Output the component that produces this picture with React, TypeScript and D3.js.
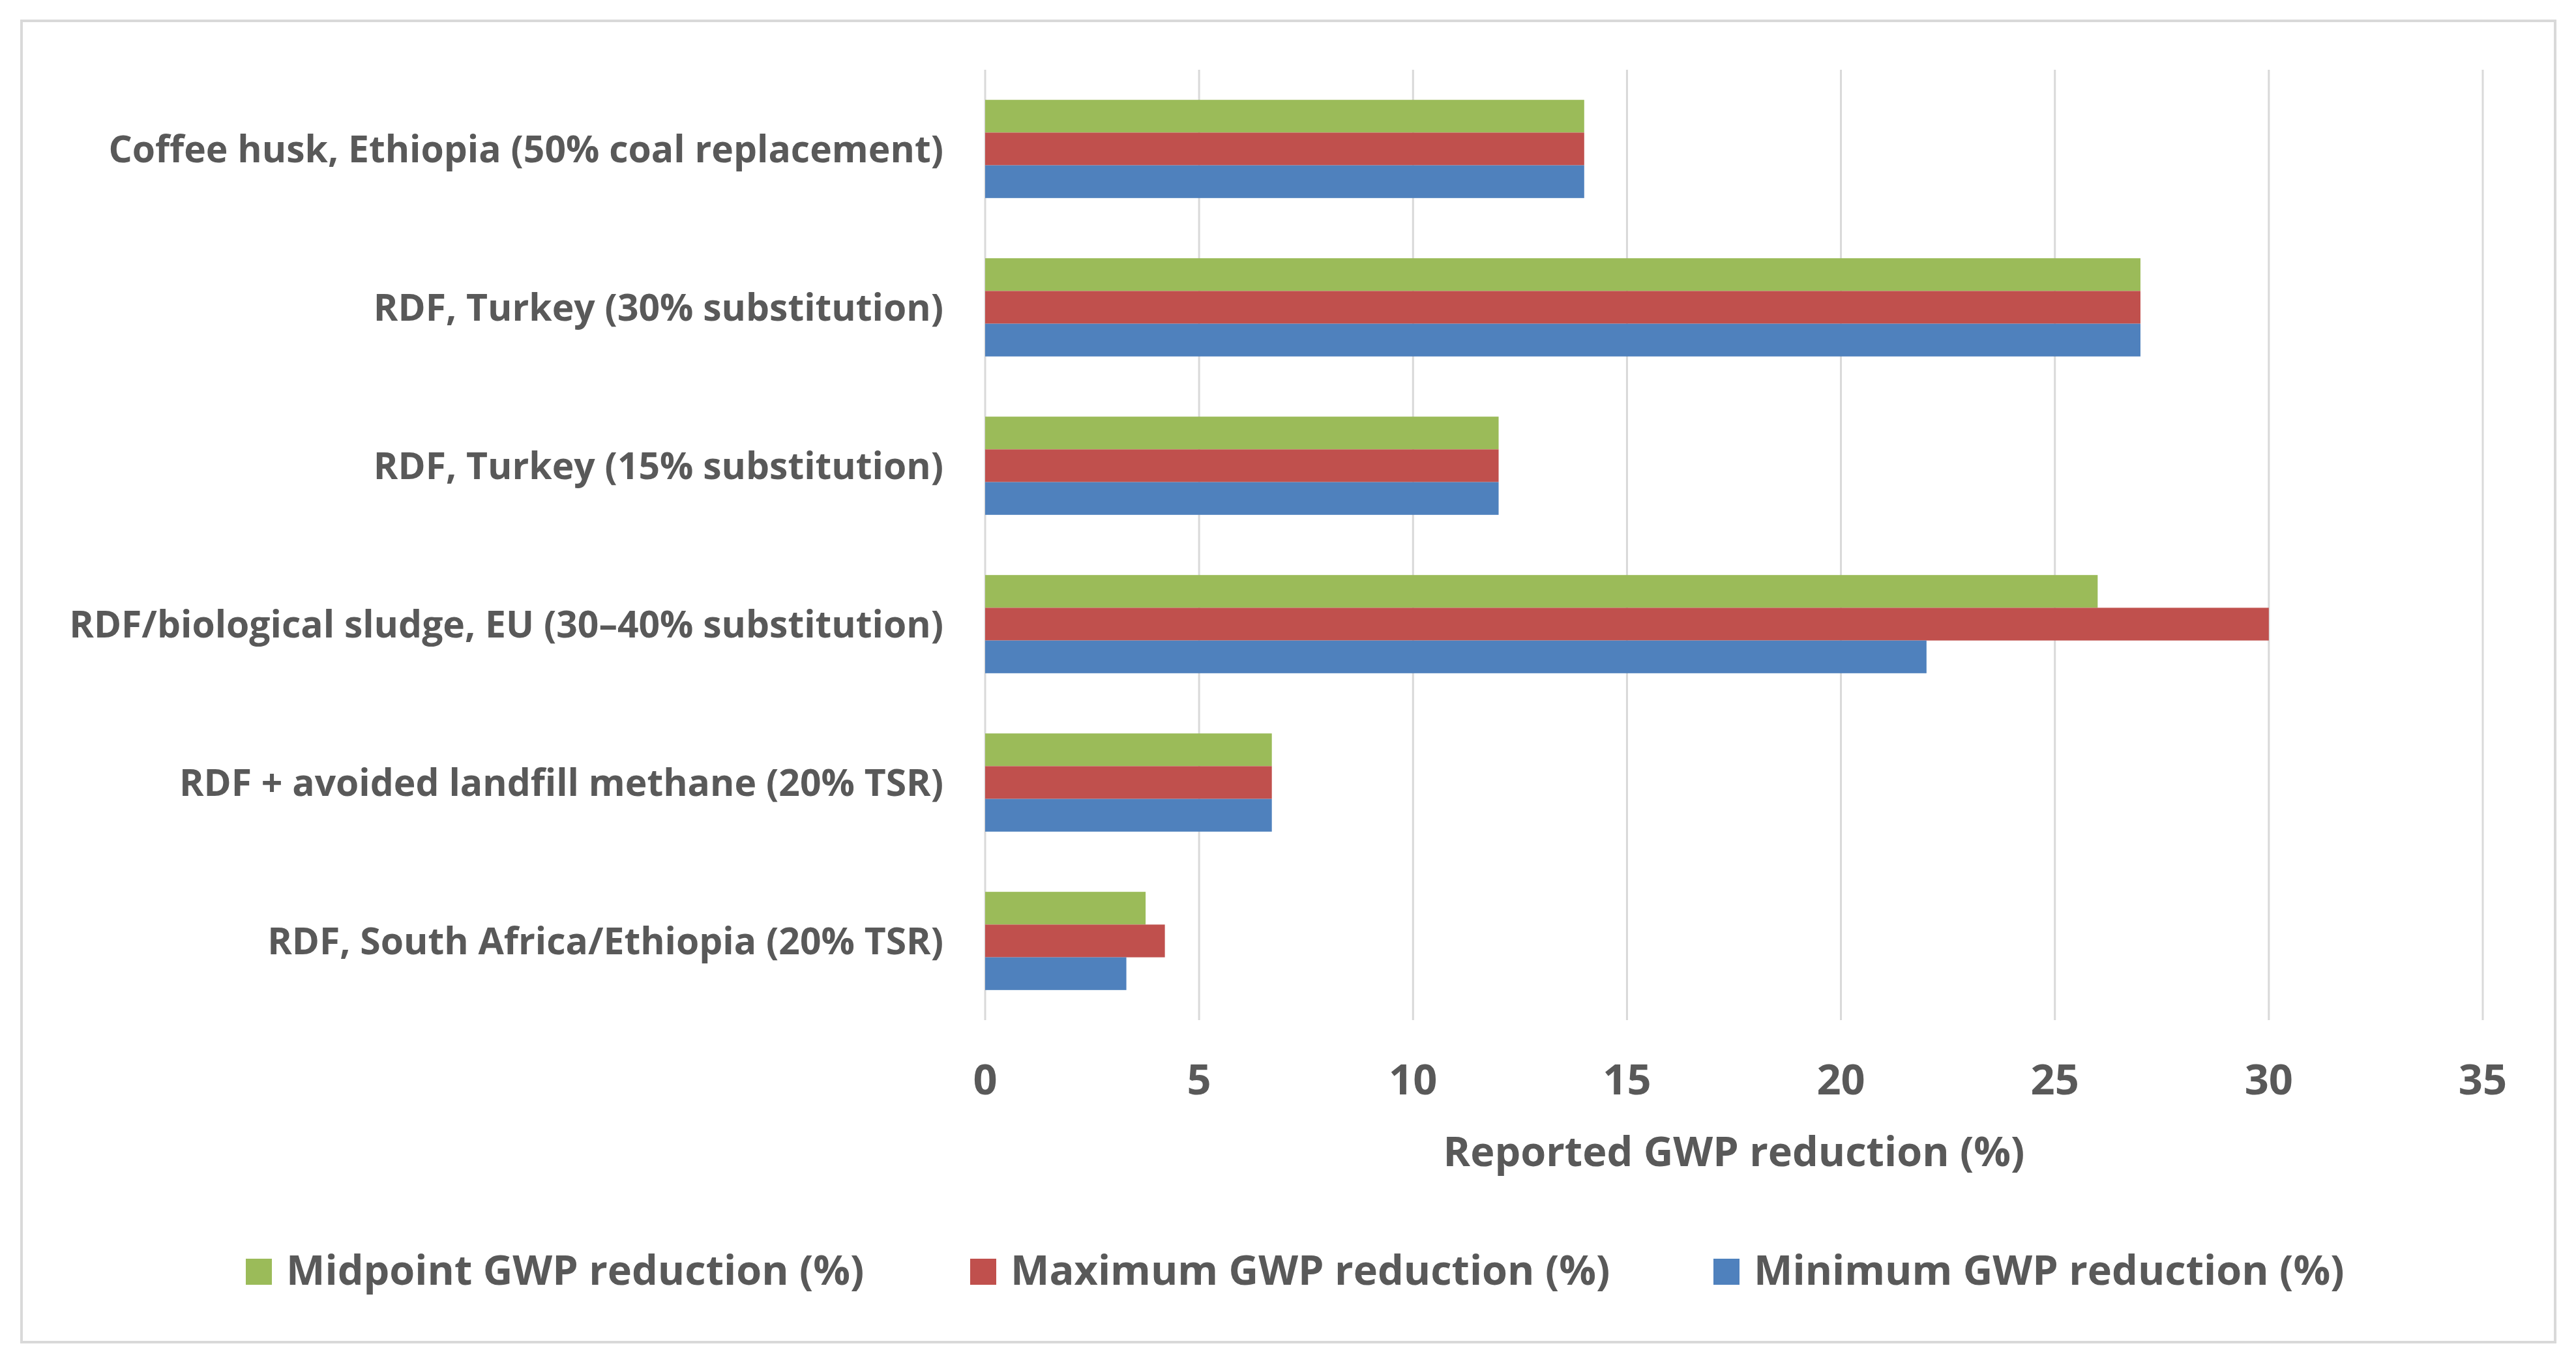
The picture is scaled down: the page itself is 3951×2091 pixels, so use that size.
import * as d3 from "d3";

const categories = [
  "Coffee husk, Ethiopia (50% coal replacement)",
  "RDF, Turkey (30% substitution)",
  "RDF, Turkey (15% substitution)",
  "RDF/biological sludge, EU (30–40% substitution)",
  "RDF + avoided landfill methane (20% TSR)",
  "RDF, South Africa/Ethiopia (20% TSR)",
];

const seriesNames = [
  "Midpoint GWP reduction (%)",
  "Maximum GWP reduction (%)",
  "Minimum GWP reduction (%)",
];

const midpointValues = [14, 27, 12, 26, 6.7, 3.75];
const maximumValues = [14, 27, 12, 30, 6.7, 4.2];
const minimumValues = [14, 27, 12, 22, 6.7, 3.3];

const xTicks = [0, 5, 10, 15, 20, 25, 30, 35];
const xTitle = "Reported GWP reduction (%)";

const seriesColors = ["#9BBB59", "#C0504D", "#4F81BD"];

const W = 3951;
const H = 2091;
const font = "'Open Sans', 'Noto Sans', sans-serif";
const textColor = "#595959";
const gridColor = "#d9d9d9";

export default function App() {
  const seriesValues = [midpointValues, maximumValues, minimumValues];

  const x = d3.scaleLinear().domain([0, 35]).range([1511, 3808]);
  const y = d3
    .scaleBand<string>()
    .domain(categories)
    .range([107, 1565])
    .paddingInner(0.38)
    .paddingOuter(0.19);
  const ySub = d3
    .scaleBand<string>()
    .domain(seriesNames)
    .range([0, y.bandwidth()]);

  const legendX = [377, 1488, 2628];

  return (
    <svg
      width={W}
      height={H}
      viewBox={`0 0 ${W} ${H}`}
      style={{ position: "absolute", left: 0, top: 0, background: "#fff" }}
      fontFamily={font}
    >
      <rect x={0} y={0} width={W} height={H} fill="#fff" />
      <rect
        x={33}
        y={32}
        width={3886}
        height={2027}
        fill="#fff"
        stroke={gridColor}
        strokeWidth={4}
      />

      {/* gridlines */}
      {xTicks.map((t) => (
        <line
          key={"g" + t}
          x1={x(t)}
          x2={x(t)}
          y1={107}
          y2={1565}
          stroke={gridColor}
          strokeWidth={3}
        />
      ))}

      {/* bars */}
      {categories.map((c, i) => (
        <g key={c} transform={`translate(0,${y(c)})`}>
          {seriesNames.map((s, j) => (
            <rect
              key={s}
              x={x(0)}
              y={ySub(s)}
              width={x(seriesValues[j][i]) - x(0)}
              height={ySub.bandwidth()}
              fill={seriesColors[j]}
            />
          ))}
        </g>
      ))}

      {/* category labels */}
      {categories.map((c) => (
        <text
          key={"l" + c}
          x={1447}
          y={(y(c) ?? 0) + y.bandwidth() / 2}
          dy="0.36em"
          textAnchor="end"
          fontSize={57}
          fontWeight={700}
          fill={textColor}
        >
          {c}
        </text>
      ))}

      {/* tick labels */}
      {xTicks.map((t) => (
        <text
          key={"t" + t}
          x={x(t)}
          y={1679}
          textAnchor="middle"
          fontSize={65}
          fontWeight={700}
          fill={textColor}
        >
          {t}
        </text>
      ))}

      <text
        x={(x(0) + x(35)) / 2}
        y={1789}
        textAnchor="middle"
        fontSize={63}
        fontWeight={700}
        fill={textColor}
      >
        {xTitle}
      </text>

      {/* legend */}
      {seriesNames.map((s, j) => (
        <g key={"lg" + s} transform={`translate(${legendX[j]},1931)`}>
          <rect width={40} height={40} fill={seriesColors[j]} />
          <text
            x={62}
            y={40}
            fontSize={63}
            fontWeight={700}
            fill={textColor}
          >
            {s}
          </text>
        </g>
      ))}
    </svg>
  );
}
